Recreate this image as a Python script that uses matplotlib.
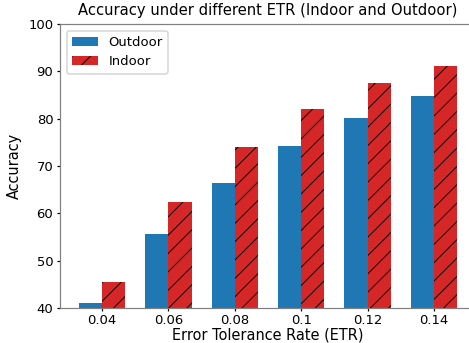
import numpy as np
import matplotlib.pyplot as plt

# Error tolerance rates and accuracy per scene
etr_labels = ['0.04', '0.06', '0.08', '0.1', '0.12', '0.14']
outdoor_acc = [41.0, 55.6, 66.4, 74.3, 80.1, 84.7]
indoor_acc = [45.4, 62.3, 74.0, 82.0, 87.5, 91.1]

plt.rcParams['hatch.linewidth'] = 0.6

x = np.arange(len(etr_labels))
width = 0.35

dpi = 110
fig = plt.figure(figsize=(469 / dpi, 343 / dpi), dpi=dpi)
ax = fig.add_axes([60 / 469, 35 / 343, 416 / 469, 284 / 343])

ax.bar(x - width / 2, outdoor_acc, width, color='#1f77b4', label='Outdoor')
ax.bar(x + width / 2, indoor_acc, width, color='#d62728', hatch='//', label='Indoor')

ax.set_xticks(x)
ax.set_xticklabels(etr_labels)
ax.tick_params(labelsize=8.6, length=2.2, pad=2.2)
ax.tick_params(axis='x', pad=1.4)
ax.set_ylim(40, 100)
ax.set_xlabel('Error Tolerance Rate (ETR)', fontsize=9.5, labelpad=0.5)
ax.set_ylabel('Accuracy', fontsize=9.5)
ax.set_title('Accuracy under different ETR (Indoor and Outdoor)', fontsize=9.7)
for s in ax.spines.values():
    s.set_color('gray')
ax.legend(loc='upper left', fontsize=8.6)

fig.savefig('out.png', dpi=dpi)
